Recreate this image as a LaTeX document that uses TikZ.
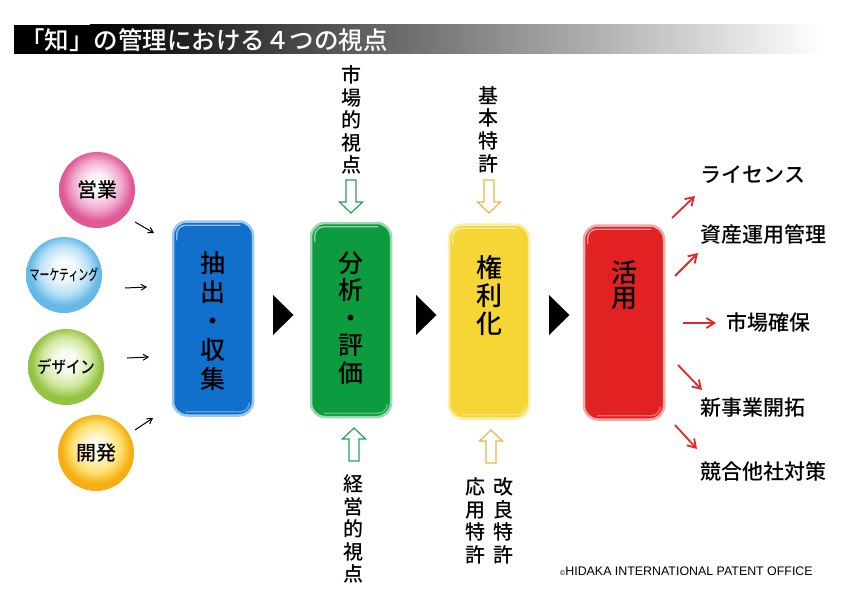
\documentclass[tikz,border=0pt]{standalone}
\usepackage{fontspec}
\setmainfont{Noto Sans CJK JP}[UprightFont=* Medium]
\newfontfamily\libsans{Liberation Sans}
\usetikzlibrary{arrows.meta,calc}
\definecolor{bluebox}{RGB}{18,112,205}
\definecolor{greenbox}{RGB}{12,155,62}
\definecolor{yellowbox}{RGB}{246,214,52}
\definecolor{redbox}{RGB}{226,34,34}
\definecolor{pinkc}{RGB}{224,88,150}
\definecolor{pinkm}{RGB}{240,170,205}
\definecolor{bluec}{RGB}{100,185,232}
\definecolor{bluem}{RGB}{185,225,245}
\definecolor{greenc}{RGB}{148,194,66}
\definecolor{greenm}{RGB}{210,232,160}
\definecolor{yellowc}{RGB}{246,174,18}
\definecolor{yellowm}{RGB}{252,225,110}
\definecolor{hgreen}{RGB}{40,160,85}
\definecolor{horange}{RGB}{236,180,72}
\definecolor{redarrow}{RGB}{228,40,40}
\pgfdeclareradialshading{sphpink}{\pgfpoint{0bp}{5bp}}{color(0bp)=(white); color(7bp)=(white!80!pinkm); color(16bp)=(pinkm); color(23bp)=(pinkc); color(50bp)=(pinkc)}
\pgfdeclareradialshading{sphblue}{\pgfpoint{0bp}{5bp}}{color(0bp)=(white); color(7bp)=(white!80!bluem); color(16bp)=(bluem); color(23bp)=(bluec); color(50bp)=(bluec)}
\pgfdeclareradialshading{sphgreen}{\pgfpoint{0bp}{5bp}}{color(0bp)=(white); color(7bp)=(white!80!greenm); color(16bp)=(greenm); color(23bp)=(greenc); color(50bp)=(greenc)}
\pgfdeclareradialshading{sphyellow}{\pgfpoint{0bp}{5bp}}{color(0bp)=(white); color(7bp)=(white!70!yellowm); color(16bp)=(yellowm); color(23bp)=(yellowc); color(50bp)=(yellowc)}
\tikzset{
  sphere/.style={circle, minimum size=76, inner sep=0, shade, shading=#1, text=black},
  procbox/.style={rounded corners=14, minimum width=80, minimum height=194, line width=2.5, fill=#1, draw=#1!40!white},
  boxtext/.style={align=center, text=black},
  vlabel/.style={align=center, text=black, font=\fontsize{20}{22.6}\selectfont},
  rlabel/.style={anchor=west, text=black, font=\fontsize{21}{22}\selectfont},
  hollow/.style={draw=#1, fill=white, line width=1.2, line join=miter},
  smallarrow/.style={line width=1, -{Straight Barb[length=5pt,width=6pt]}},
  redarr/.style={draw=redarrow, line width=1.8, -{Straight Barb[length=8pt,width=10pt]}},
  gloss/.style={white, line width=1.4, opacity=.55, rounded corners=9}
}
\begin{document}
\begin{tikzpicture}[x=1pt,y=-1pt]
\useasboundingbox (0,0) rectangle (842,596);
\fill[white] (0,0) rectangle (842,596);
% title bar
\fill[black] (14,25) rectangle (90,54);
\shade[left color=black, right color=white] (90,25) rectangle (822,54);
\node[anchor=west, text=white, font=\fontsize{24.5}{24}\selectfont, inner sep=0] (title) at (20,40) {「知」の管理における４つの視点};
% spheres
\node[sphere=sphpink] (eigyo) at (97,190) {\fontsize{20}{20}\selectfont 営業};
\node[sphere=sphblue] (mkt) at (64,275) {\fontsize{15}{15}\selectfont\scalebox{0.66}[1]{マーケティング}};
\node[sphere=sphgreen] (dsg) at (66,367) {\fontsize{17}{17}\selectfont\scalebox{0.85}[1]{デザイン}};
\node[sphere=sphyellow] (kai) at (96,453) {\fontsize{20}{20}\selectfont 開発};
% small arrows
\coordinate (s1a) at (135,222); \coordinate (s1b) at (154,233);
\coordinate (s2a) at (125,288); \coordinate (s2b) at (147,287);
\coordinate (s3a) at (127,358); \coordinate (s3b) at (149,357);
\coordinate (s4a) at (135,430); \coordinate (s4b) at (153,418);
\draw[smallarrow] (s1a) -- (s1b);
\draw[smallarrow] (s2a) -- (s2b);
\draw[smallarrow] (s3a) -- (s3b);
\draw[smallarrow] (s4a) -- (s4b);
% process boxes
\node[procbox=bluebox] (b1) at (213,318.5) {};
\node[procbox=greenbox] (b2) at (351,320) {};
\node[procbox=yellowbox] (b3) at (489,321.5) {};
\node[procbox=redbox] (b4) at (624,322.5) {};
\foreach \b in {b1,b2,b3,b4}{
  \draw[gloss] ($(\b.north west)+(5,20)$) -- ($(\b.north west)+(5,5)$) -- ($(\b.north east)+(-14,5)$);
  \draw[gloss, opacity=.35] ($(\b.south west)+(14,-5)$) -- ($(\b.south east)+(-5,-5)$) -- ($(\b.south east)+(-5,-14)$);
}
\node[boxtext, font=\fontsize{25}{29}\selectfont] (t1) at (213,321) {抽\\出\\・\\収\\集};
\node[boxtext, font=\fontsize{25}{27.5}\selectfont] (t2) at (351,318) {分\\析\\・\\評\\価};
\node[boxtext, font=\fontsize{26}{28}\selectfont] (t3) at (489,296) {権\\利\\化};
\node[boxtext, font=\fontsize{26}{25}\selectfont] (t4) at (624,285) {活\\用};
% black triangles
\coordinate (tr1) at (273,315); \coordinate (tr2) at (416,315); \coordinate (tr3) at (549,315);
\foreach \t in {tr1,tr2,tr3}{
  \fill[black] (\t) ++(0,-20) -- ++(20.5,20) -- ++(-20.5,20) -- cycle;
}
% top labels and hollow arrows
\node[vlabel] (lab1) at (351,120) {市\\場\\的\\視\\点};
\node[vlabel] (lab2) at (488,129.5) {基\\本\\特\\許};
\coordinate (ha1) at (351,180);
\coordinate (ha2) at (489,180);
\draw[hollow=hgreen] (ha1) ++(-5,0) -- ++(10,0) -- ++(0,22) -- ++(6.5,0) -- ++(-11.5,11) -- ++(-11.5,-11) -- ++(6.5,0) -- cycle;
\draw[hollow=horange] (ha2) ++(-5,0) -- ++(10,0) -- ++(0,22) -- ++(6.5,0) -- ++(-11.5,11) -- ++(-11.5,-11) -- ++(6.5,0) -- cycle;
% bottom labels and hollow arrows
\coordinate (hb1) at (354,461);
\coordinate (hb2) at (491,463);
\draw[hollow=hgreen] (hb1) ++(-5,0) -- ++(10,0) -- ++(0,-22) -- ++(6.5,0) -- ++(-11.5,-11) -- ++(-11.5,11) -- ++(6.5,0) -- cycle;
\draw[hollow=horange] (hb2) ++(-5,0) -- ++(10,0) -- ++(0,-22) -- ++(6.5,0) -- ++(-11.5,-11) -- ++(-11.5,11) -- ++(6.5,0) -- cycle;
\node[vlabel] (lab3) at (353,529) {経\\営\\的\\視\\点};
\node[vlabel] (lab4) at (475,521) {応\\用\\特\\許};
\node[vlabel] (lab5) at (503,521) {改\\良\\特\\許};
% right side
\node[rlabel] (r1) at (697,175) {ライセンス};
\node[rlabel] (r2) at (697,235) {資産運用管理};
\node[rlabel] (r3) at (723,323) {市場確保};
\node[rlabel] (r4) at (697,408) {新事業開拓};
\node[rlabel] (r5) at (697,471) {競合他社対策};
\coordinate (a1a) at (672,218); \coordinate (a1b) at (695,196);
\coordinate (a2a) at (675,276); \coordinate (a2b) at (698,253);
\coordinate (a3a) at (683,323); \coordinate (a3b) at (716,323);
\coordinate (a4a) at (678,365); \coordinate (a4b) at (702,390);
\coordinate (a5a) at (675,425); \coordinate (a5b) at (697,449);
\draw[redarr] (a1a) -- (a1b);
\draw[redarr] (a2a) -- (a2b);
\draw[redarr] (a3a) -- (a3b);
\draw[redarr] (a4a) -- (a4b);
\draw[redarr] (a5a) -- (a5b);
% copyright
\node[anchor=west, inner sep=0, text=black, font=\libsans\fontsize{12.4}{13}\selectfont] (copy) at (560,571) {{\fontsize{7}{7}\selectfont ©}HIDAKA INTERNATIONAL PATENT OFFICE};
\end{tikzpicture}
\end{document}
